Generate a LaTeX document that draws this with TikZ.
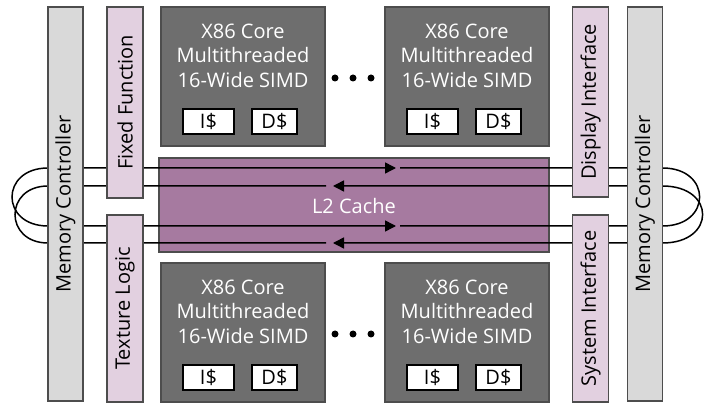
\documentclass[tikz,border=0pt]{standalone}
\usepackage{fontspec}
\setmainfont{Open Sans}
\usetikzlibrary{arrows.meta}
\pgfdeclarelayer{cachelayer}
\pgfdeclarelayer{ringlayer}
\pgfsetlayers{cachelayer,ringlayer,main}
\definecolor{memgray}{HTML}{D9D9D9}
\definecolor{edgegray}{HTML}{4D4D4D}
\definecolor{sidepink}{HTML}{E2D0E0}
\definecolor{coregray}{HTML}{6E6E6E}
\definecolor{cachepurple}{HTML}{A67AA0}

\begin{document}
\begin{tikzpicture}[x=1pt,y=-1pt,
  box/.style={draw=edgegray, line width=1.2pt, inner sep=0pt, outer sep=0pt},
  memctl/.style={box, fill=memgray, minimum width=35pt},
  sidebox/.style={box, fill=sidepink, minimum width=36pt},
  corebox/.style={box, fill=coregray, minimum width=164pt, minimum height=139pt},
  cachebox/.style={box, fill=cachepurple},
  vtext/.style={rotate=90, font=\fontsize{20}{24}\selectfont, inner sep=0pt},
  coretext/.style={text=white, align=center, font=\fontsize{20}{24.5}\selectfont, inner sep=0pt, anchor=north},
  cachetag/.style={draw=black, line width=1.2pt, fill=white, inner sep=0pt, minimum height=25pt, font=\fontsize{20}{24}\selectfont},
  itag/.style={cachetag, minimum width=51pt},
  dtag/.style={cachetag, minimum width=45pt},
  ring/.style={line width=1.5pt},
  twoheads/.style={{Triangle[length=11pt,width=11pt]}-{Triangle[length=11pt,width=11pt]}},
  dot/.style={fill=black}
]
\useasboundingbox (0,0) rectangle (710,403);

% memory controllers on both sides
\node[memctl, minimum height=394pt] (mcL) at (65.5,204) {};
\node[vtext] at (mcL.center) {Memory Controller};
\node[memctl, minimum height=394pt] (mcR) at (645,204) {};
\node[vtext] at (mcR.center) {Memory Controller};

% fixed-function and interface blocks
\node[sidebox, minimum height=191pt] (ff) at (125,102.5) {};
\node[vtext] at (ff.center) {Fixed Function};
\node[sidebox, minimum height=187pt] (tex) at (125,308.5) {};
\node[vtext] at (tex.center) {Texture Logic};
\node[sidebox, minimum height=190pt] (disp) at (590.5,102) {};
\node[vtext] at (disp.center) {Display Interface};
\node[sidebox, minimum height=187pt] (sys) at (590.5,308.5) {};
\node[vtext] at (sys.center) {System Interface};

% cores
\node[corebox] (c1) at (243,76.5) {};
\node[coretext] at (243,23.5) {X86 Core\\Multithreaded\\16-Wide SIMD};
\node[itag] (c1i) at (208.5,121.5) {I\$};
\node[dtag] (c1d) at (274.5,121.5) {D\$};

\node[corebox] (c2) at (467,76.5) {};
\node[coretext] at (467,23.5) {X86 Core\\Multithreaded\\16-Wide SIMD};
\node[itag] (c2i) at (432.5,121.5) {I\$};
\node[dtag] (c2d) at (498.5,121.5) {D\$};

\node[corebox] (c3) at (243,332.5) {};
\node[coretext] at (243,279.5) {X86 Core\\Multithreaded\\16-Wide SIMD};
\node[itag] (c3i) at (208.5,377.5) {I\$};
\node[dtag] (c3d) at (274.5,377.5) {D\$};

\node[corebox] (c4) at (467,332.5) {};
\node[coretext] at (467,279.5) {X86 Core\\Multithreaded\\16-Wide SIMD};
\node[itag] (c4i) at (432.5,377.5) {I\$};
\node[dtag] (c4d) at (498.5,377.5) {D\$};

% ellipses between cores
\foreach \x in {335,353,371} {
  \fill[dot] (\x,78) circle (3.5pt);
  \fill[dot] (\x,334) circle (3.5pt);
}

% shared L2 cache
\begin{pgfonlayer}{cachelayer}
\node[cachebox, minimum width=390pt, minimum height=94pt] (l2) at (354,205) {};
\node[text=white, font=\fontsize{20}{24}\selectfont, inner sep=0pt] at (354,206) {L2 Cache};
\end{pgfonlayer}

% ring bus end points
\coordinate (la) at (mcL.west |- 0,168);
\coordinate (lb) at (mcL.west |- 0,186);
\coordinate (lc) at (mcL.west |- 0,226);
\coordinate (ld) at (mcL.west |- 0,243);
\coordinate (ra) at (mcR.east |- 0,168);
\coordinate (rb) at (mcR.east |- 0,186);
\coordinate (rc) at (mcR.east |- 0,226);
\coordinate (rd) at (mcR.east |- 0,243);
\coordinate (ha) at (396,168);
\coordinate (hc) at (396,226);
\coordinate (ta) at (400,168);
\coordinate (tc) at (400,226);
\coordinate (hb) at (333,186);
\coordinate (hd) at (333,243);
\coordinate (sb) at (326,186);
\coordinate (sd) at (326,243);

% ring bus
\begin{pgfonlayer}{ringlayer}
\draw[ring, twoheads] (ha) -- (la) .. controls (0,168) and (0,226) .. (lc) -- (hc);
\draw[ring] (ta) -- (ra) .. controls (712,168) and (712,226) .. (rc) -- (tc);
\draw[ring] (sb) -- (lb) .. controls (4,186) and (4,243) .. (ld) -- (sd);
\draw[ring, twoheads] (hb) -- (rb) .. controls (716,186) and (716,243) .. (rd) -- (hd);
\end{pgfonlayer}
\end{tikzpicture}
\end{document}
